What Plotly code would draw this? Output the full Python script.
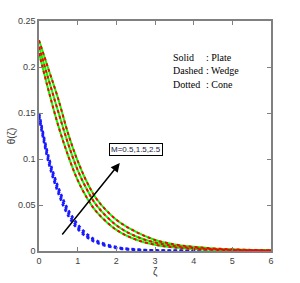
import plotly.graph_objects as go

zeta = [0, 0.25, 0.5, 0.75, 1.0, 1.25, 1.5, 2.0, 2.5, 3.0, 3.5, 4.0, 4.5, 5.0, 5.5, 6.0]

# Plate (solid) and Wedge (dashed) coincide
theta_top = [0.229, 0.197, 0.165, 0.128, 0.098, 0.074, 0.056, 0.034, 0.021, 0.012, 0.0072, 0.0045, 0.0028, 0.0018, 0.0012, 0.0008]
theta_mid = [0.222, 0.186, 0.151, 0.117, 0.088, 0.066, 0.049, 0.028, 0.016, 0.0092, 0.0055, 0.0033, 0.0020, 0.0013, 0.0008, 0.0005]
theta_bot = [0.215, 0.174, 0.136, 0.104, 0.077, 0.057, 0.042, 0.023, 0.0125, 0.0068, 0.0038, 0.0022, 0.0013, 0.0008, 0.0005, 0.0003]

# Cone (dotted)
cone_1 = [0.150, 0.102, 0.069, 0.045, 0.029, 0.018, 0.0110, 0.0043, 0.0017, 0.0007, 0.0003, 0.0001, 0.0, 0.0, 0.0, 0.0]
cone_2 = [0.148, 0.099, 0.066, 0.042, 0.026, 0.016, 0.0098, 0.0037, 0.0014, 0.0005, 0.0002, 0.0001, 0.0, 0.0, 0.0, 0.0]
cone_3 = [0.146, 0.096, 0.063, 0.039, 0.024, 0.0148, 0.0088, 0.0032, 0.0012, 0.0004, 0.0002, 0.0001, 0.0, 0.0, 0.0, 0.0]

y_ticks = [0, 0.05, 0.1, 0.15, 0.2, 0.25]
y_labels = ["0", "0.05", "0.1", "0.15", "0.2", "0.25"]
x_ticks = [0, 1, 2, 3, 4, 5, 6]

fig = go.Figure()

for c in [cone_1, cone_2, cone_3]:
    fig.add_trace(go.Scatter(x=zeta, y=c, mode="lines", line_shape="spline",
                             line=dict(color="#1a1aff", width=2.5, dash="dot")))
for s in [theta_top, theta_mid, theta_bot]:
    fig.add_trace(go.Scatter(x=zeta, y=s, mode="lines", line_shape="spline",
                             line=dict(color="#00ff00", width=2)))
for s in [theta_top, theta_mid, theta_bot]:
    fig.add_trace(go.Scatter(x=zeta, y=s, mode="lines", line_shape="spline",
                             line=dict(color="#ff0000", width=2, dash="3px,3px")))

axis_common = dict(showline=True, linecolor="#808080", linewidth=1.5, mirror="ticks",
                   ticks="inside", ticklen=4, tickcolor="#808080", showgrid=False,
                   zeroline=False, automargin=False,
                   tickfont=dict(family="Liberation Sans", size=9, color="#404040"))

fig.update_layout(
    width=300, height=283,
    margin=dict(l=39, r=29, t=21, b=32),
    paper_bgcolor="white", plot_bgcolor="white",
    showlegend=False,
    xaxis=dict(range=[0, 6], tickvals=x_ticks, **axis_common),
    yaxis=dict(range=[0, 0.25], tickvals=y_ticks, ticktext=y_labels, **axis_common),
)

# axis titles as annotations
fig.add_annotation(text="ζ", xref="paper", yref="paper", x=0.5, y=-0.09, yanchor="middle",
                   showarrow=False, font=dict(family="Liberation Sans", size=10, color="#404040"))
fig.add_annotation(text="θ(ζ)", xref="paper", yref="paper", x=-0.115, y=0.5, xanchor="center",
                   showarrow=False, textangle=-90,
                   font=dict(family="Liberation Sans", size=10, color="#404040"))

# legend text
leg_left = ["Solid", "Dashed", "Dotted"]
leg_right = [": Plate", ": Wedge", ": Cone"]
leg_y = [0.210, 0.196, 0.1815]
for l, r, yy in zip(leg_left, leg_right, leg_y):
    fig.add_annotation(text=l, x=3.42, y=yy, xanchor="left", showarrow=False,
                       font=dict(family="Liberation Serif", size=10, color="black"))
    fig.add_annotation(text=r, x=4.28, y=yy, xanchor="left", showarrow=False,
                       font=dict(family="Liberation Serif", size=10, color="black"))

# arrow
fig.add_annotation(x=2.09, y=0.0957, ax=0.57, ay=0.0163, axref="x", ayref="y",
                   showarrow=True, arrowhead=2, arrowsize=1.2, arrowwidth=1.5,
                   arrowcolor="black", text="")
fig.add_annotation(text="M=0.5,1.5,2.5", x=2.51, y=0.110, showarrow=False,
                   bordercolor="black", borderwidth=1, borderpad=1, bgcolor="white",
                   font=dict(family="Liberation Sans", size=8, color="#202040"))

fig.write_html("out.html", config={"displayModeBar": False},
               post_script="document.body.style.margin='0';")
